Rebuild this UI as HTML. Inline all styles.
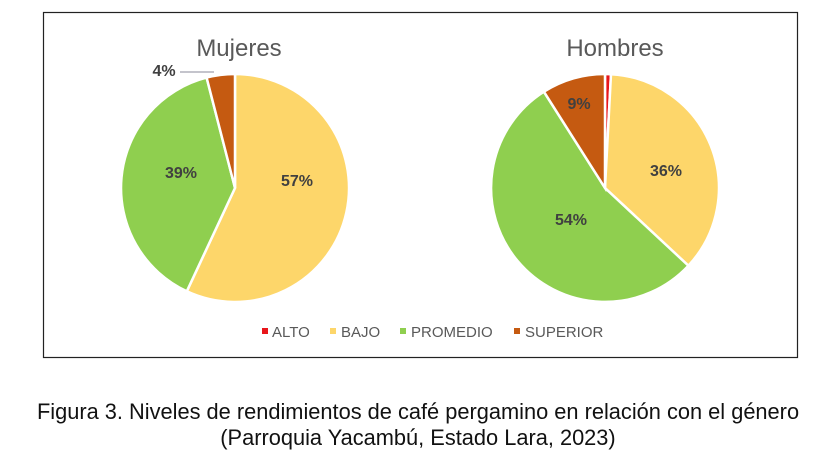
<!DOCTYPE html>
<html><head><meta charset="utf-8"><style>
body{margin:0;background:#fff;width:837px;height:460px;overflow:hidden}
svg{display:block}
</style></head><body>
<svg width="837" height="460" xmlns="http://www.w3.org/2000/svg" font-family="Liberation Sans, Arial, sans-serif">
<rect x="43.5" y="12.5" width="754" height="345" fill="#fff" stroke="#222" stroke-width="1.2"/>
<text x="239" y="56" font-size="24" fill="#595959" text-anchor="middle">Mujeres</text>
<text x="615" y="56" font-size="24" fill="#595959" text-anchor="middle">Hombres</text>
<g stroke="#fff" stroke-width="2.5">
<path d="M235,188 L235,74 A114,114 0 1,1 186.8,291.3 Z" fill="#FDD66A"/>
<path d="M235,188 L186.8,291.3 A114,114 0 0,1 206.6,77.6 Z" fill="#8FCF4F"/>
<path d="M235,188 L206.6,77.6 A114,114 0 0,1 235,74 Z" fill="#C55A11"/>
<path d="M605,188 L605,74 A114,114 0 0,1 611,74.2 Z" fill="#E8161B"/>
<path d="M605,188 L611,74.2 A114,114 0 0,1 688.4,265.7 Z" fill="#FDD66A"/>
<path d="M605,188 L688.4,265.7 A114,114 0 1,1 543.9,91.7 Z" fill="#8FCF4F"/>
<path d="M605,188 L543.9,91.7 A114,114 0 0,1 605,74 Z" fill="#C55A11"/>
</g>
<line x1="180" y1="72" x2="214" y2="72" stroke="#8a8a9a" stroke-width="1"/>
<g font-size="16" font-weight="bold" fill="#404040" text-anchor="middle">
<text x="297" y="186">57%</text>
<text x="181" y="178">39%</text>
<text x="164" y="76">4%</text>
<text x="666" y="176">36%</text>
<text x="571" y="225">54%</text>
<text x="579" y="109">9%</text>
</g>
<g font-size="15" fill="#595959">
<rect x="262" y="328" width="6" height="6" fill="#E8161B"/><text x="272" y="337">ALTO</text>
<rect x="330" y="328" width="6" height="6" fill="#FDD66A"/><text x="341" y="337">BAJO</text>
<rect x="400" y="328" width="6" height="6" fill="#8FCF4F"/><text x="411" y="337">PROMEDIO</text>
<rect x="514" y="328" width="6" height="6" fill="#C55A11"/><text x="525" y="337">SUPERIOR</text>
</g>
<g font-size="21.8" fill="#111" text-anchor="middle">
<text x="418" y="419">Figura 3. Niveles de rendimientos de café pergamino en relación con el género</text>
<text x="418" y="445">(Parroquia Yacambú, Estado Lara, 2023)</text>
</g>
</svg>
</body></html>
